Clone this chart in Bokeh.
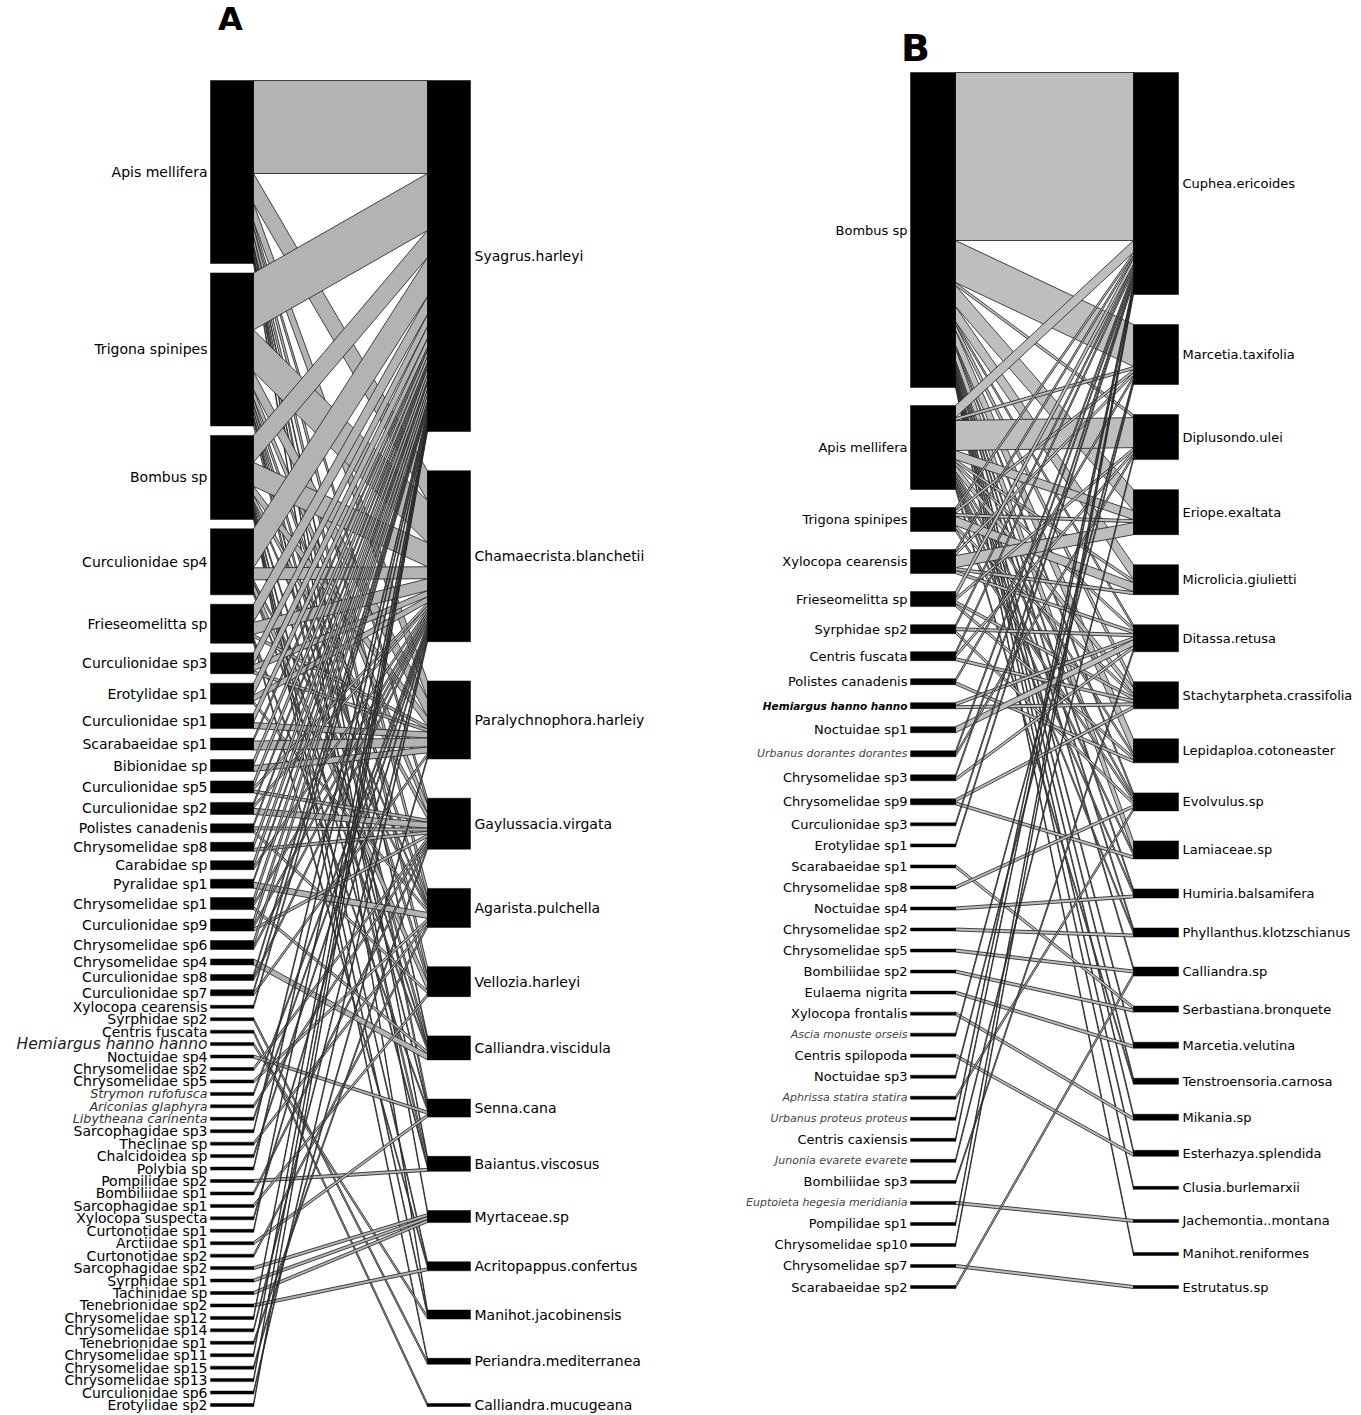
from bokeh.plotting import figure
from bokeh.models import Range1d, ColumnDataSource
from bokeh.embed import file_html
from bokeh.resources import INLINE
from bokeh.core.properties import value

# ---------------- Panel A data ----------------
A_LOW = ["Apis mellifera", "Trigona spinipes", "Bombus sp", "Curculionidae sp4",
         "Frieseomelitta sp", "Curculionidae sp3", "Erotylidae sp1", "Curculionidae sp1",
         "Scarabaeidae sp1", "Bibionidae sp", "Curculionidae sp5", "Curculionidae sp2",
         "Polistes canadenis", "Chrysomelidae sp8", "Carabidae sp", "Pyralidae sp1",
         "Chrysomelidae sp1", "Curculionidae sp9", "Chrysomelidae sp6", "Chrysomelidae sp4",
         "Curculionidae sp8", "Curculionidae sp7", "Xylocopa cearensis", "Syrphidae sp2",
         "Centris fuscata", "Hemiargus hanno hanno", "Noctuidae sp4", "Chrysomelidae sp2",
         "Chrysomelidae sp5", "Strymon rufofusca", "Ariconias glaphyra", "Libytheana carinenta",
         "Sarcophagidae sp3", "Theclinae sp", "Chalcidoidea sp", "Polybia sp",
         "Pompilidae sp2", "Bombiliidae sp1", "Sarcophagidae sp1", "Xylocopa suspecta",
         "Curtonotidae sp1", "Arctiidae sp1", "Curtonotidae sp2", "Sarcophagidae sp2",
         "Syrphidae sp1", "Tachinidae sp", "Tenebrionidae sp2", "Chrysomelidae sp12",
         "Chrysomelidae sp14", "Tenebrionidae sp1", "Chrysomelidae sp11", "Chrysomelidae sp15",
         "Chrysomelidae sp13", "Curculionidae sp6", "Erotylidae sp2"]
A_HIGH = ["Syagrus.harleyi", "Chamaecrista.blanchetii", "Paralychnophora.harleiy",
          "Gaylussacia.virgata", "Agarista.pulchella", "Vellozia.harleyi",
          "Calliandra.viscidula", "Senna.cana", "Baiantus.viscosus", "Myrtaceae.sp",
          "Acritopappus.confertus", "Manihot.jacobinensis", "Periandra.mediterranea",
          "Calliandra.mucugeana"]
# (pollinator index, plant index, number of interactions)
A_LINKS = [
    (0, 0, 31), (0, 1, 10), (0, 2, 6), (0, 3, 2), (0, 4, 3), (0, 5, 3), (0, 6, 1),
    (0, 7, 2), (0, 8, 1), (0, 9, 1), (0, 11, 1),
    (1, 0, 19), (1, 1, 14), (1, 2, 6), (1, 3, 3), (1, 4, 2), (1, 5, 2), (1, 6, 2),
    (1, 7, 1), (1, 8, 2),
    (2, 0, 9), (2, 1, 8), (2, 2, 3), (2, 3, 2), (2, 4, 1), (2, 6, 1), (2, 8, 1),
    (2, 10, 1), (2, 11, 1), (2, 12, 1),
    (3, 0, 13), (3, 1, 4), (3, 4, 1), (3, 5, 3), (3, 6, 1),
    (4, 0, 6), (4, 1, 4), (4, 2, 1), (4, 7, 1), (4, 10, 1),
    (5, 0, 4), (5, 1, 2), (5, 2, 1),
    (6, 0, 4), (6, 1, 2), (6, 4, 1),
    (7, 0, 3), (7, 2, 2),
    (8, 0, 1), (8, 2, 3),
    (9, 0, 2), (9, 2, 2),
    (10, 0, 2), (10, 1, 1), (10, 3, 1),
    (11, 0, 1), (11, 1, 1), (11, 3, 2),
    (12, 0, 1), (12, 3, 1), (12, 5, 1),
    (13, 0, 2), (13, 3, 1),
    (14, 0, 2), (14, 1, 1),
    (15, 0, 1), (15, 4, 2),
    (16, 0, 2), (16, 1, 1), (16, 6, 1),
    (17, 0, 2), (17, 1, 1), (17, 3, 1),
    (18, 0, 2), (18, 1, 1),
    (19, 6, 2),
    (20, 0, 1), (20, 1, 1),
    (21, 0, 1), (21, 2, 1),
    (22, 0, 1), (23, 12, 1), (24, 13, 1), (25, 11, 1), (26, 7, 1), (27, 3, 1),
    (28, 4, 1), (29, 1, 1), (30, 3, 1), (31, 1, 1), (32, 0, 1), (33, 4, 1),
    (34, 1, 1), (35, 0, 1), (36, 8, 1), (37, 3, 1), (38, 5, 1), (39, 1, 1),
    (40, 0, 1), (41, 7, 1), (42, 4, 1), (43, 9, 1), (44, 9, 1), (45, 9, 1),
    (46, 10, 1), (47, 0, 1), (48, 1, 1), (49, 3, 1), (50, 0, 1), (51, 2, 1),
    (52, 0, 1), (53, 1, 1), (54, 0, 1),
]

# ---------------- Panel B data ----------------
B_LOW = ["Bombus sp", "Apis mellifera", "Trigona spinipes", "Xylocopa cearensis",
         "Frieseomelitta sp", "Syrphidae sp2", "Centris fuscata", "Polistes canadenis",
         "Hemiargus hanno hanno", "Noctuidae sp1", "Urbanus dorantes dorantes",
         "Chrysomelidae sp3", "Chrysomelidae sp9", "Curculionidae sp3", "Erotylidae sp1",
         "Scarabaeidae sp1", "Chrysomelidae sp8", "Noctuidae sp4", "Chrysomelidae sp2",
         "Chrysomelidae sp5", "Bombiliidae sp2", "Eulaema nigrita", "Xylocopa frontalis",
         "Ascia monuste orseis", "Centris spilopoda", "Noctuidae sp3",
         "Aphrissa statira statira", "Urbanus proteus proteus", "Centris caxiensis",
         "Junonia evarete evarete", "Bombiliidae sp3", "Euptoieta hegesia meridiania",
         "Pompilidae sp1", "Chrysomelidae sp10", "Chrysomelidae sp7", "Scarabaeidae sp2"]
B_HIGH = ["Cuphea.ericoides", "Marcetia.taxifolia", "Diplusondo.ulei", "Eriope.exaltata",
          "Microlicia.giulietti", "Ditassa.retusa", "Stachytarpheta.crassifolia",
          "Lepidaploa.cotoneaster", "Evolvulus.sp", "Lamiaceae.sp", "Humiria.balsamifera",
          "Phyllanthus.klotzschianus", "Calliandra.sp", "Serbastiana.bronquete",
          "Marcetia.velutina", "Tenstroensoria.carnosa", "Mikania.sp",
          "Esterhazya.splendida", "Clusia.burlemarxii", "Jachemontia..montana",
          "Manihot.reniformes", "Estrutatus.sp"]
B_LINKS = [
    (0, 0, 56), (0, 1, 14), (0, 2, 1), (0, 3, 7), (0, 4, 5), (0, 5, 1), (0, 6, 2),
    (0, 7, 5), (0, 8, 1), (0, 9, 4), (0, 10, 1), (0, 11, 1), (0, 12, 1), (0, 14, 1),
    (0, 15, 1), (0, 16, 1), (0, 17, 1), (0, 18, 1), (0, 20, 1),
    (1, 0, 4), (1, 1, 1), (1, 2, 10), (1, 3, 3), (1, 4, 1), (1, 5, 1), (1, 6, 2),
    (1, 7, 1), (1, 8, 1), (1, 9, 1), (1, 10, 1), (1, 11, 1), (1, 15, 1),
    (2, 0, 1), (2, 1, 1), (2, 3, 1), (2, 4, 3), (2, 6, 1), (2, 8, 1),
    (3, 0, 1), (3, 1, 1), (3, 3, 4), (3, 4, 1), (3, 5, 1),
    (4, 0, 2), (4, 2, 1), (4, 6, 1), (4, 7, 1),
    (5, 0, 1), (5, 5, 1), (5, 8, 1),
    (6, 0, 1), (6, 2, 1), (6, 6, 1),
    (7, 1, 1), (7, 7, 1),
    (8, 5, 1), (8, 6, 1),
    (9, 5, 2),
    (10, 0, 1), (10, 2, 1),
    (11, 0, 1), (11, 5, 1),
    (12, 6, 1), (12, 9, 1),
    (13, 0, 1), (14, 0, 1), (15, 13, 1), (16, 8, 1), (17, 10, 1), (18, 11, 1),
    (19, 12, 1), (20, 13, 1), (21, 14, 1), (22, 16, 1), (23, 1, 1), (24, 17, 1),
    (25, 1, 1), (26, 8, 1), (27, 0, 1), (28, 0, 1), (29, 2, 1), (30, 5, 1),
    (31, 19, 1), (32, 0, 1), (33, 0, 1), (34, 21, 1), (35, 12, 1),
]

# ---------------- label styles ----------------
A_ITALIC = ["Strymon rufofusca", "Ariconias glaphyra", "Libytheana carinenta"]
A_BIG_ITALIC = ["Hemiargus hanno hanno"]
B_ITALIC = ["Urbanus dorantes dorantes", "Ascia monuste orseis", "Aphrissa statira statira",
            "Urbanus proteus proteus", "Junonia evarete evarete", "Euptoieta hegesia meridiania"]
B_BOLD_ITALIC = ["Hemiargus hanno hanno"]

FONT = "DejaVu Sans"
W, H = 1361, 1415

p = figure(width=W, height=H, x_range=Range1d(0, W), y_range=Range1d(H, 0),
           output_backend="svg", toolbar_location=None, min_border=0)
p.axis.visible = False
p.grid.visible = False
p.outline_line_color = None
p.background_fill_color = "white"
p.border_fill_color = "white"


def stack(totals, top, bottom, unit):
    n = len(totals)
    gap = ((bottom - top) - unit * sum(totals)) / (n - 1)
    starts, y = [], top
    for t in totals:
        starts.append(y)
        y += t * unit + gap
    return starts


def draw_panel(low, high, links, lx, hx, top, bottom, unit, fill, low_style, high_size):
    low_tot = [0] * len(low)
    high_tot = [0] * len(high)
    for i, j, w in links:
        low_tot[i] += w
        high_tot[j] += w
    ly = stack(low_tot, top, bottom, unit)
    hy = stack(high_tot, top, bottom, unit)

    seg_low, seg_high = {}, {}
    cur = list(ly)
    for i, j, w in sorted(links, key=lambda l: (l[0], l[1])):
        seg_low[(i, j)] = (cur[i], cur[i] + w * unit)
        cur[i] += w * unit
    cur = list(hy)
    for i, j, w in sorted(links, key=lambda l: (l[1], l[0])):
        seg_high[(i, j)] = (cur[j], cur[j] + w * unit)
        cur[j] += w * unit

    xs, ys = [], []
    for i, j, w in sorted(links, key=lambda l: (l[0], l[1])):
        a0, a1 = seg_low[(i, j)]
        b0, b1 = seg_high[(i, j)]
        xs.append([lx[1], hx[0], hx[0], lx[1]])
        ys.append([a0, b0, b1, a1])
    p.patches(xs, ys, fill_color=fill, line_color="#1a1a1a", line_width=0.8)

    p.quad(left=lx[0], right=lx[1], top=ly,
           bottom=[y + t * unit for y, t in zip(ly, low_tot)],
           fill_color="black", line_color="black", line_width=0.5)
    p.quad(left=hx[0], right=hx[1], top=hy,
           bottom=[y + t * unit for y, t in zip(hy, high_tot)],
           fill_color="black", line_color="black", line_width=0.5)

    sizes, styles, colors = [], [], []
    for name in low:
        s, st, c = low_style(name)
        sizes.append(s); styles.append(st); colors.append(c)
    src = ColumnDataSource(dict(
        x=[lx[0] - 3] * len(low),
        y=[y + t * unit / 2 for y, t in zip(ly, low_tot)],
        text=low, size=sizes, style=styles, color=colors))
    p.text(x="x", y="y", text="text", source=src, text_align="right",
           text_baseline="middle", text_font=value(FONT), text_font_size="size",
           text_font_style="style", text_color="color")
    src2 = ColumnDataSource(dict(
        x=[hx[1] + 4] * len(high),
        y=[y + t * unit / 2 for y, t in zip(hy, high_tot)],
        text=high))
    p.text(x="x", y="y", text="text", source=src2, text_align="left",
           text_baseline="middle", text_font=value(FONT), text_font_size=high_size,
           text_color="black")


def style_a(name):
    if name in A_BIG_ITALIC:
        return "15.5px", "italic", "#222222"
    if name in A_ITALIC:
        return "12.7px", "italic", "#333333"
    return "14px", "normal", "black"


def style_b(name):
    if name in B_BOLD_ITALIC:
        return "10.5px", "bold italic", "black"
    if name in B_ITALIC:
        return "11px", "italic", "#444444"
    return "13px", "normal", "black"


draw_panel(A_LOW, A_HIGH, A_LINKS, (210, 253), (427, 470), 80, 1406, 3.0,
           "#b3b3b3", style_a, "14px")
draw_panel(B_LOW, B_HIGH, B_LINKS, (910, 955), (1133, 1178), 72, 1288, 3.0,
           "#bebebe", style_b, "13px")

p.text(x=[230], y=[18], text=["A"], text_align="center", text_baseline="middle",
       text_font=value(FONT), text_font_size="32px", text_font_style="bold",
       text_color="black")
p.text(x=[915], y=[47], text=["B"], text_align="center", text_baseline="middle",
       text_font=value(FONT), text_font_size="38px", text_font_style="bold",
       text_color="black")

open("out.html", "w").write(file_html(p, INLINE))
